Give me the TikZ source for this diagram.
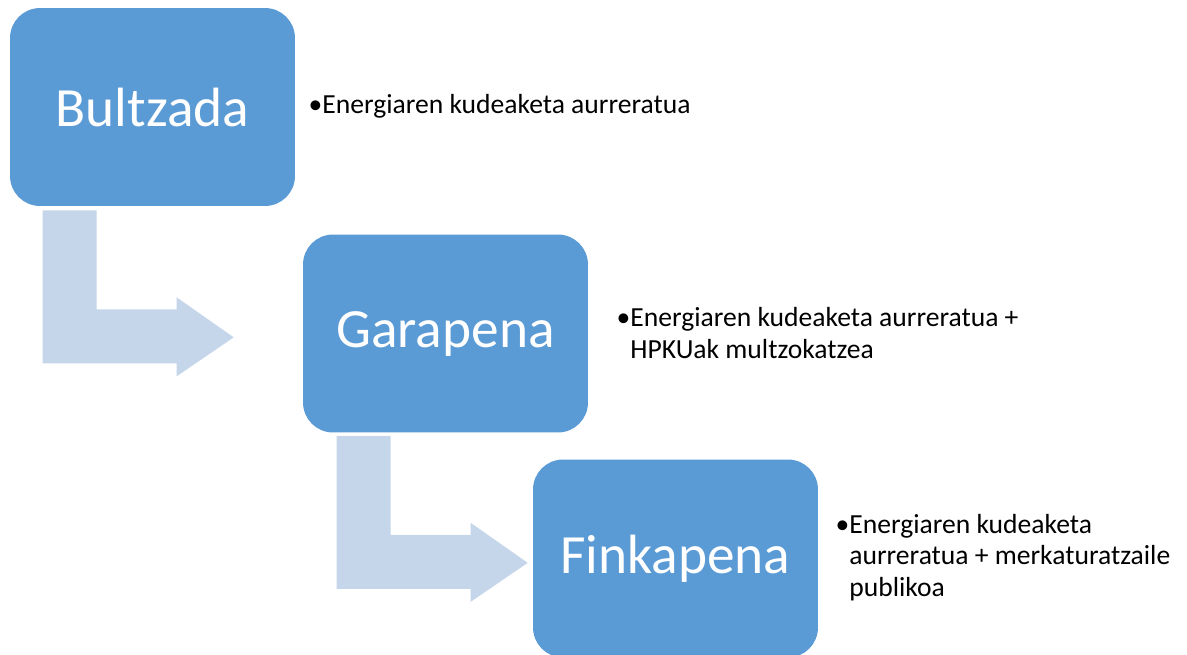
\documentclass[tikz,border=0pt]{standalone}
\usepackage{fontspec}
\setmainfont{Carlito}
\usetikzlibrary{calc}
\definecolor{stageblue}{RGB}{91,155,213}
\definecolor{arrowblue}{RGB}{197,213,234}
\tikzset{
  stage/.style={rectangle, rounded corners=0.6cm, fill=stageblue, draw=none,
    minimum width=5.7cm, minimum height=3.96cm, text=white,
    font=\fontsize{31.5}{36}\selectfont},
  note/.style={anchor=base west, inner sep=0pt, align=left,
    font=\fontsize{15.7}{17.9}\selectfont},
  bentarrow/.style={fill=arrowblue, draw=none}
}
\begin{document}
\begin{tikzpicture}[x=0.02cm, y=0.02cm]
            \useasboundingbox (0,0) rectangle (1187,654);

            \node[stage] (bul) at (152.5, 547) {Bultzada};
            \node[stage] (gar) at (445.5, 320.5) {Garapena};
            \node[stage] (fin) at (675.5, 95.5) {Finkapena};

            % bent arrows between the stages
            \fill[bentarrow] ($(bul.south west)+(33,-4)$) -- ++(54,0) -- ++(0,-99) -- ++(80,0) -- ++(0,12)
                -- ++(57,-40) -- ++(-57,-39) -- ++(0,13) -- ++(-134,0) -- cycle;
            \fill[bentarrow] ($(gar.south west)+(34,-3)$) -- ++(54,0) -- ++(0,-99) -- ++(80,0) -- ++(0,12)
                -- ++(57,-40) -- ++(-57,-39) -- ++(0,13) -- ++(-134,0) -- cycle;

            % base anchor sits on the last line
            \node[note] (bulnote) at (322, 541) {\llap{•}Energiaren kudeaketa aurreratua};
            \node[note] (garnote) at (630, 296) {\llap{•}Energiaren kudeaketa aurreratua +\\HPKUak multzokatzea};
            \node[note] (finnote) at (849, 58) {\llap{•}Energiaren kudeaketa\\aurreratua + merkaturatzaile\\publikoa};
        \end{tikzpicture}
\end{document}
